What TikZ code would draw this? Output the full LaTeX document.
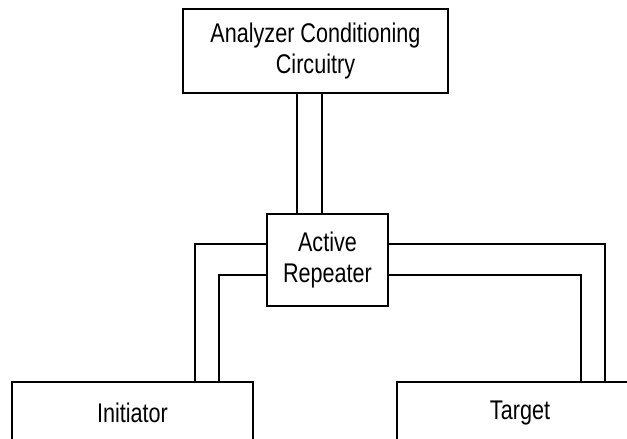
\documentclass[tikz,border=0pt]{standalone}
\usepackage{fontspec}
\newfontfamily\diagfont[FakeStretch=0.8]{Liberation Sans}
\begin{document}
\begin{tikzpicture}[x=1pt,y=-1pt,
  box/.style={draw=black,line width=1.6pt,fill=white,inner sep=0pt,align=center,
    font=\diagfont\fontsize{27}{31}\selectfont},
  wire/.style={draw=black,line width=1.6pt}]
\useasboundingbox (0,0) rectangle (627,439);
\clip (0,0) rectangle (627,439);
\fill[white] (0,0) rectangle (627,439);
% boxes
\node[box,minimum width=265pt,minimum height=84pt] (acc) at (315.5,51) {Analyzer Conditioning\\Circuitry};
\node[box,minimum width=121pt,minimum height=92pt] (rep) at (327.5,260) {Active\\Repeater};
\node[box,minimum width=241pt,minimum height=62pt] (ini) at (132.5,413) {Initiator};
\node[box,minimum width=246pt,minimum height=62pt] (tgt) at (520,413) {Target};
% connectors
\draw[wire] (acc.south -| 297,0) -- (rep.north -| 297,0);
\draw[wire] (acc.south -| 322,0) -- (rep.north -| 322,0);
\draw[wire] (rep.west |- 0,244) -| (ini.north -| 195,0);
\draw[wire] (rep.west |- 0,275) -| (ini.north -| 219,0);
\draw[wire] (rep.east |- 0,244) -| (tgt.north -| 605,0);
\draw[wire] (rep.east |- 0,275) -| (tgt.north -| 581,0);
\end{tikzpicture}
\end{document}
